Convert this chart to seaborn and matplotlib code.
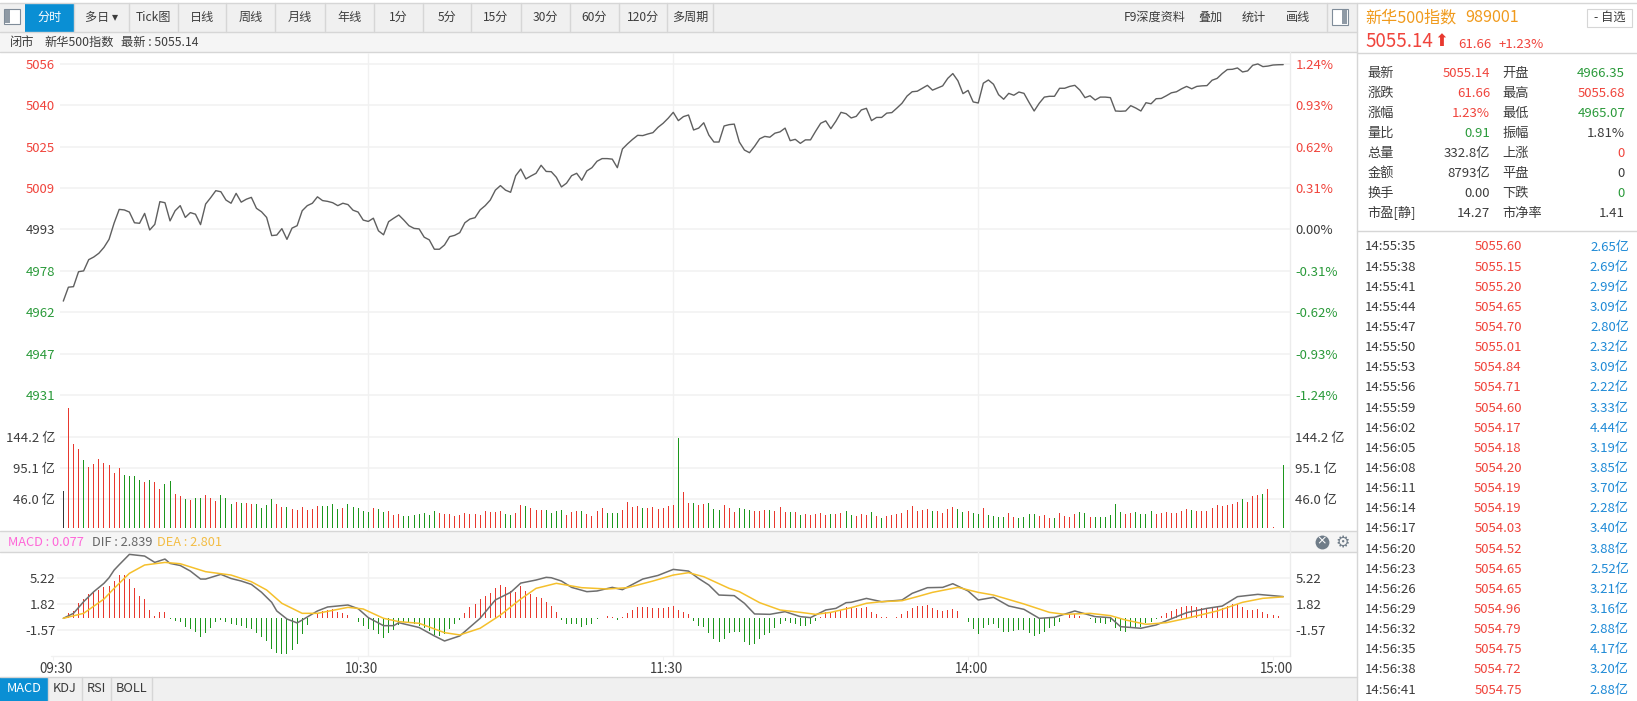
"""Intraday screen for the 新华500 index: price line, volume bars, MACD, and the quote side panel."""
import matplotlib
matplotlib.use("Agg")

import matplotlib.pyplot as plt
import matplotlib.transforms as mtrans
import numpy as np
import pandas as pd
import seaborn as sns

# ── Data, one value per minute of the trading session ────────────────────
PRICE = [
    4966.7, 4971.9, 4972.1, 4977.7, 4978.0, 4982.2, 4983.2, 4984.6, 4986.8, 4989.8,
    4995.9, 5001.0, 5000.8, 5000.0, 4996.0, 4995.8, 4999.5, 4993.3, 4995.4, 5003.9,
    5003.5, 4996.7, 5000.5, 5002.4, 4998.0, 4999.8, 4999.2, 4995.3, 5003.0, 5005.4,
    5008.0, 5007.6, 5004.5, 5003.3, 5007.0, 5003.7, 5004.8, 5005.5, 5001.4, 5000.1,
    4998.0, 4991.2, 4991.4, 4993.8, 4989.8, 4994.0, 4994.9, 5000.5, 5002.4, 5003.3,
    5005.7, 5004.3, 5004.0, 5003.5, 5002.4, 5003.3, 5002.8, 5000.7, 5000.0, 4997.0,
    4996.5, 4997.7, 4993.0, 4991.5, 4996.4, 4997.7, 4998.9, 4997.0, 4994.9, 4993.9,
    4993.7, 4990.6, 4989.6, 4986.1, 4986.1, 4987.7, 4990.8, 4991.3, 4992.3, 4996.0,
    4997.4, 4997.9, 5000.8, 5002.4, 5004.5, 5008.2, 5009.9, 5008.2, 5007.4, 5013.6,
    5016.1, 5012.4, 5013.5, 5014.5, 5017.5, 5015.2, 5015.1, 5013.0, 5009.4, 5010.8,
    5013.6, 5014.5, 5011.9, 5015.4, 5016.6, 5019.0, 5020.0, 5020.0, 5019.8, 5016.6,
    5023.6, 5025.5, 5027.2, 5028.7, 5028.6, 5029.2, 5029.7, 5031.7, 5033.2, 5035.1,
    5037.3, 5034.2, 5035.7, 5036.3, 5030.7, 5031.4, 5033.4, 5028.8, 5026.2, 5026.2,
    5032.2, 5032.7, 5032.9, 5026.2, 5023.2, 5022.2, 5024.6, 5027.4, 5028.3, 5028.0,
    5029.5, 5030.0, 5031.4, 5026.7, 5027.2, 5025.7, 5027.0, 5027.0, 5030.2, 5033.2,
    5034.1, 5031.2, 5034.0, 5037.3, 5036.8, 5035.2, 5035.8, 5038.2, 5038.8, 5034.2,
    5035.4, 5035.4, 5037.0, 5037.2, 5038.9, 5040.7, 5043.4, 5045.0, 5045.2, 5046.3,
    5047.4, 5045.6, 5046.4, 5047.2, 5050.0, 5051.8, 5049.1, 5044.3, 5045.5, 5041.2,
    5040.8, 5048.2, 5049.4, 5047.8, 5043.9, 5042.2, 5044.4, 5043.7, 5044.9, 5044.4,
    5041.0, 5037.8, 5040.7, 5043.0, 5043.3, 5043.3, 5046.3, 5046.3, 5047.0, 5047.4,
    5045.6, 5042.8, 5043.5, 5041.9, 5043.0, 5043.0, 5042.8, 5037.8, 5037.7, 5037.8,
    5039.8, 5038.9, 5037.8, 5040.9, 5040.5, 5042.4, 5042.5, 5043.5, 5044.6, 5045.0,
    5046.1, 5047.0, 5046.1, 5047.0, 5047.2, 5047.3, 5049.3, 5050.0, 5051.8, 5053.3,
    5053.4, 5053.9, 5052.4, 5052.8, 5054.9, 5055.4, 5054.4, 5054.6, 5055.0, 5055.1,
    5055.14,
]
VOLUME = [
    59, 190.5, 133, 125, 108, 96.7, 102, 110, 103.4, 99.8,
    87.6, 95.5, 84.4, 83.4, 82.3, 77, 73.8, 76, 72.9, 62,
    70, 75, 55, 51, 46.5, 45, 48, 47.4, 52, 48,
    44, 52.7, 47.4, 38, 42, 40.6, 39.5, 38.5, 38.5, 32.6,
    36.4, 46, 38.5, 33, 34, 31, 29, 33.7, 29, 30.5,
    34.6, 34.6, 34.6, 39, 30.5, 31.5, 38, 33, 31.5, 28,
    26, 32.7, 30.5, 25.4, 27, 21, 22, 19.5, 19.5, 21.5,
    22, 23.7, 21.5, 27.6, 25, 23, 23, 20, 21, 25,
    23, 22, 21, 28, 26, 26, 28, 23, 21, 25,
    37, 35.7, 32.7, 29.5, 29, 29.5, 24.7, 27.6, 29, 21,
    26, 27, 27, 22, 19.5, 28, 32.7, 25, 23.7, 23.7,
    29, 41, 33, 34.6, 32, 31.5, 33, 29.8, 32.7, 35.7,
    36.4, 143, 57, 40, 39.5, 37, 38, 40.6, 30, 29.5,
    36.4, 32.7, 26, 31.5, 30.5, 29.5, 27.6, 27, 29, 29,
    27.6, 33, 26, 26, 26, 21, 22, 21, 23, 23.7,
    21, 22, 22, 23.7, 27.6, 21, 19.5, 22, 21, 26,
    20, 16.7, 19.5, 21, 23, 25, 29.5, 35.7, 28, 29.5,
    29.8, 28, 27.6, 23.7, 29.8, 33, 30.5, 26.5, 27, 23.7,
    22, 31.5, 21, 19.5, 18, 17.4, 25, 18, 17, 18,
    22, 22, 20, 21, 16, 15.5, 23.7, 19.5, 18, 22,
    26, 23.7, 18.5, 17.4, 18.5, 17.4, 21, 38.5, 26.5, 23,
    23.7, 26, 22, 23, 27.6, 23, 25, 26, 23.7, 25,
    27, 30.5, 29.5, 27.6, 27, 28, 31.5, 37, 35.7, 37.5,
    38.5, 42, 46, 42, 51, 52.7, 54.5, 63, 1.5, 0.8,
    100,
]
VOLUME_SIDE = list(
    "krrrgrrrrr" "rrggggrgrr" "ggrrgrggrr" "rgggrgrrgg" "ggrrgrrrrr"
    "rggggrgggg" "grggrrrggg" "ggggrrrrrr" "rrrrrrrggr" "rgrrrggggr"
    "rrgrrrrggg" "rrrrgrrrrr" "rgrrgrrggg" "rrrgggrrrg" "rrrgrgrrrr"
    "rgrrggrrrg" "rgrrrrrrrr" "rgrrrrggrg" "grggggrrgg" "ggrrrgrrrr"
    "ggrggggggr" "rggggrrrrr" "rrgrrrrrrr" "rrgrrrgrrrg"
)
MACD_HIST = [
    0.0, 0.65, 0.96, 2.0, 2.48, 3.17, 3.48, 3.74, 4.04, 4.22,
    4.87, 5.6, 5.65, 5.13, 4.0, 2.91, 2.48, 1.09, 0.3, 0.78,
    0.83, -0.09, -0.3, -0.43, -1.13, -1.43, -1.74, -2.43, -1.91, -1.22,
    -0.52, -0.22, -0.43, -0.78, -0.87, -0.96, -1.3, -1.39, -1.87, -2.39,
    -2.96, -3.96, -4.52, -4.61, -4.7, -4.09, -3.35, -2.04, -0.87, 0.0,
    0.57, 0.96, 1.13, 1.17, 0.83, 0.7, 0.39, 0.02, -0.43, -0.96,
    -1.39, -1.48, -2.09, -2.52, -1.96, -1.48, -0.87, -0.52, -0.65, -0.74,
    -0.96, -1.3, -1.65, -2.13, -2.3, -2.0, -1.39, -0.74, -0.17, 0.74,
    1.48, 1.91, 2.48, 2.96, 3.35, 3.96, 4.35, 4.13, 3.61, 3.39,
    4.22, 3.57, 3.13, 2.83, 2.7, 2.17, 1.61, 0.83, -0.22, -0.78,
    -0.78, -0.74, -1.09, -0.87, -0.7, -0.13, 0.09, 0.26, 0.22, -0.22,
    0.22, 0.74, 1.13, 1.48, 1.48, 1.43, 1.3, 1.3, 1.35, 1.43,
    1.61, 1.13, 0.87, 0.61, -0.35, -0.96, -1.17, -1.87, -2.74, -3.13,
    -2.7, -1.96, -1.83, -1.74, -3.04, -3.52, -3.39, -2.74, -2.17, -1.87,
    -1.22, -0.78, -0.35, -0.57, -0.74, -0.96, -0.96, -0.74, -0.39, 0.22,
    0.78, 0.78, 0.78, 1.04, 1.52, 1.39, 1.3, 1.39, 1.48, 0.78,
    0.52, 0.17, 0.13, 0.09, 0.22, 0.52, 0.96, 1.35, 1.57, 1.65,
    1.74, 1.35, 1.13, 0.96, 1.04, 1.26, 0.96, 0.02, -0.52, -1.39,
    -2.04, -1.3, -0.87, -0.78, -1.22, -1.74, -1.74, -1.65, -1.52, -1.52,
    -1.96, -2.3, -2.09, -1.83, -1.22, -1.0, -0.43, 0.02, 0.52, 0.52,
    0.35, 0.02, -0.04, -0.61, -0.65, -0.7, -0.52, -1.3, -1.65, -1.74,
    -1.3, -1.3, -1.13, -0.65, -0.43, -0.04, 0.26, 0.65, 1.0, 1.22,
    1.48, 1.61, 1.57, 1.48, 1.39, 1.39, 1.48, 1.43, 1.3, 1.65,
    1.83, 1.83, 1.48, 1.13, 1.09, 1.17, 0.78, 0.61, 0.43, 0.3,
    0.077,
]
# the two MACD curves are smooth, so they are read at their turning points
DIF_MINUTES = [
    0, 2, 4, 6, 8, 9, 10, 11, 13, 16, 18, 20, 21, 23, 25, 27, 28, 31, 33, 35,
    37, 39, 41, 42, 44, 46, 47, 50, 52, 56, 58, 60, 63, 65, 66, 70, 73, 75, 78, 82,
    85, 88, 90, 93, 95, 96, 98, 100, 103, 105, 108, 110, 114, 117, 120, 123, 125, 127, 129, 132,
    134, 136, 139, 142, 145, 147, 150, 152, 154, 155, 158, 161, 165, 167, 170, 173, 175, 178, 180, 183,
    186, 189, 192, 195, 199, 203, 206, 208, 212, 215, 221, 225, 228, 231, 235, 240,
]
DIF = [
    0.0, 0.65, 2.17, 3.48, 4.57, 5.3, 6.3, 7.0, 8.35, 8.13, 7.3, 7.74, 7.17, 6.9, 6.17, 5.13, 5.13, 5.74, 5.2, 4.87,
    4.43, 3.4, 2.09, 0.96, -0.09, -0.6, -0.22, 0.96, 1.48, 1.74, 1.26, 0.09, -0.96, -0.96, -0.57, -1.2, -2.3, -2.96, -2.3, 0.0,
    2.4, 3.39, 4.6, 5.0, 5.35, 5.3, 4.87, 4.04, 3.48, 3.57, 4.04, 3.74, 5.13, 5.6, 6.39, 6.17, 5.2, 4.35, 3.04, 2.96,
    1.96, 0.57, 0.52, 0.87, 0.22, 0.09, 1.09, 1.3, 2.04, 2.09, 2.6, 2.17, 2.39, 3.26, 4.0, 4.04, 4.52, 3.57, 2.39, 2.74,
    1.61, 1.17, 0.0, 0.13, 0.96, 0.22, 0.09, -1.09, -1.3, -0.87, 0.74, 1.3, 1.6, 2.83, 3.13, 2.839,
]
DEA_MINUTES = [
    0, 4, 8, 10, 13, 16, 20, 23, 28, 33, 37, 40, 43, 47, 50, 56, 59, 63, 66, 70,
    75, 78, 82, 86, 90, 93, 97, 102, 107, 111, 116, 120, 123, 126, 131, 133, 137, 141, 145, 148,
    151, 155, 158, 161, 165, 168, 171, 176, 180, 183, 189, 194, 197, 202, 206, 209, 213, 217, 221, 227,
    232, 236, 240,
]
DEA = [
    0.0, 0.65, 2.52, 3.91, 5.87, 6.96, 7.3, 7.13, 6.09, 5.65, 4.78, 3.7, 1.96, 0.65, 0.65, 1.43, 1.22, 0.0, -0.43, -0.65,
    -1.87, -2.17, -1.3, 0.43, 2.52, 3.91, 4.57, 4.0, 3.83, 4.0, 4.87, 5.65, 5.96, 5.43, 3.91, 3.48, 2.04, 1.09, 0.78, 0.52,
    0.78, 1.39, 1.96, 2.17, 2.3, 2.83, 3.39, 4.04, 3.39, 3.04, 1.87, 0.78, 0.52, 0.65, 0.35, -0.22, -0.78, -0.57, 0.0, 0.96,
    2.09, 2.61, 2.801,
]

PRICE_TICKS = [5055.4, 5039.92, 5024.44, 5008.96, 4993.48, 4978.0, 4962.52, 4947.04, 4931.56]
PRICE_LABELS = ["5056", "5040", "5025", "5009", "4993", "4978", "4962", "4947", "4931"]
PCT_LABELS = ["1.24%", "0.93%", "0.62%", "0.31%", "0.00%", "-0.31%", "-0.62%", "-0.93%", "-1.24%"]
VOLUME_TICKS = [144.2, 95.1, 46.0]
VOLUME_LABELS = ["144.2 亿", "95.1 亿", "46.0 亿"]
MACD_TICKS = [5.22, 1.82, -1.57]
MACD_LABELS = ["5.22", "1.82", "-1.57"]
TIME_TICKS = [0, 60, 120, 180, 240]
TIME_LABELS = ["09:30", "10:30", "11:30", "14:00", "15:00"]
GRID_MINUTES = [60, 120, 180]

TOOLBAR_LABELS = ["分时", "多日 ▾", "Tick图", "日线", "周线", "月线", "年线", "1分", "5分", "15分", "30分", "60分", "120分", "多周期"]
TOOLBAR_EDGES = [24.5, 73.7, 128.6, 177.7, 226.3, 275.4, 324.5, 373.7, 422.8, 471.4, 520.5, 569.6, 618.8, 667.4, 712.5]
TOOLBAR_RIGHT = [("F9深度资料", 1155), ("叠加", 1210.5), ("统计", 1254), ("画线", 1298.5)]
TABS = ["MACD", "KDJ", "RSI", "BOLL"]
TAB_EDGES = [0, 48.3, 81.7, 110.7, 151.7]

STAT_LEFT = [("最新", "5055.14", "r"), ("涨跌", "61.66", "r"), ("涨幅", "1.23%", "r"), ("量比", "0.91", "g"),
             ("总量", "332.8亿", "n"), ("金额", "8793亿", "n"), ("换手", "0.00", "n"), ("市盈[静]", "14.27", "n")]
STAT_RIGHT = [("开盘", "4966.35", "g"), ("最高", "5055.68", "r"), ("最低", "4965.07", "g"), ("振幅", "1.81%", "n"),
              ("上涨", "0", "r"), ("平盘", "0", "n"), ("下跌", "0", "g"), ("市净率", "1.41", "n")]
TICK_TIMES = ["14:55:35", "14:55:38", "14:55:41", "14:55:44", "14:55:47", "14:55:50", "14:55:53", "14:55:56",
              "14:55:59", "14:56:02", "14:56:05", "14:56:08", "14:56:11", "14:56:14", "14:56:17", "14:56:20",
              "14:56:23", "14:56:26", "14:56:29", "14:56:32", "14:56:35", "14:56:38", "14:56:41"]
TICK_PRICES = ["5055.60", "5055.15", "5055.20", "5054.65", "5054.70", "5055.01", "5054.84", "5054.71",
               "5054.60", "5054.17", "5054.18", "5054.20", "5054.19", "5054.19", "5054.03", "5054.52",
               "5054.65", "5054.65", "5054.96", "5054.79", "5054.75", "5054.72", "5054.75"]
TICK_AMOUNTS = ["2.65亿", "2.69亿", "2.99亿", "3.09亿", "2.80亿", "2.32亿", "3.09亿", "2.22亿",
                "3.33亿", "4.44亿", "3.19亿", "3.85亿", "3.70亿", "2.28亿", "3.40亿", "3.88亿",
                "2.52亿", "3.21亿", "3.16亿", "2.88亿", "4.17亿", "3.20亿", "2.88亿"]

# ── Style ────────────────────────────────────────────────────────────────
RED = "#e8382e"
GREEN = "#1c961c"
TEXT = "#3c3c3c"
LINE = "#5f5f5f"
GOLD = "#f5c02c"
GRID = "#f1f1f1"
BORDER = "#d6d6d6"
BAR_BG = "#f0f0f0"
ROW_BG = "#f5f5f5"
BLUE = "#0a8fd4"
AMOUNT_BLUE = "#1f8ad6"
ORANGE = "#f09a1c"
TONE = {"r": "#f0443c", "g": "#2a9a3a", "n": TEXT}

W, H = 1637, 701
PX_LEFT, PX_STEP, PX_RIGHT = 63.3, 5.083, 1290.3
BAR_WIDTH = 1 / PX_STEP  # one pixel wide, so snapping keeps every bar the same

sns.set_theme(style="white")
plt.rcParams["font.family"] = ["Noto Sans CJK SC", "DejaVu Sans"]
plt.rcParams["axes.unicode_minus"] = False

fig = plt.figure(figsize=(W / 100, H / 100), dpi=100, facecolor="white")


def px_axes(left, top, right, bottom):
    ax = fig.add_axes([left / W, 1 - bottom / H, (right - left) / W, (bottom - top) / H], zorder=2)
    ax.patch.set_alpha(0)
    ax.set_xlim((left - PX_LEFT) / PX_STEP, (right - PX_LEFT) / PX_STEP)
    return ax


def finish_axis(ax, ticks, left_labels, right_labels, ylim, colors=None, left_pad=3.6):
    """Horizontal grid, left and right tick labels, no frame."""
    ax.set_ylim(*ylim)
    ax.set_yticks(ticks, left_labels)
    ax.tick_params(axis="y", length=0, labelsize=9.5, pad=left_pad)
    ax.set_xlabel("")
    ax.set_ylabel("")
    twin = ax.twinx()
    twin.set_ylim(*ylim)
    twin.set_yticks(ticks, right_labels)
    twin.tick_params(axis="y", length=0, labelsize=9.5, pad=3.6)
    twin.set_zorder(ax.get_zorder() - 1)
    for side_ax in (ax, twin):
        sns.despine(ax=side_ax, left=True, right=True, top=True, bottom=True)
        for i, label in enumerate(side_ax.get_yticklabels()):
            label.set_color(colors[i] if colors else TEXT)
    ax.grid(False)
    twin.grid(False)
    for value in ticks:
        ax.axhline(value, color=GRID, lw=1.1, zorder=0)
    for minute in GRID_MINUTES:
        ax.axvline(minute, color=GRID, lw=1.0, zorder=0)


# ── Chrome behind the charts, in pixel coordinates ───────────────────────
ui = fig.add_axes([0, 0, 1, 1], zorder=0)
ui.set_xlim(0, W)
ui.set_ylim(H, 0)
ui.axis("off")


def box(x0, y0, x1, y1, color, edge="none"):
    ui.add_patch(plt.Rectangle((x0, y0), x1 - x0, y1 - y0, facecolor=color, edgecolor=edge, lw=0.8))


def hline(y, x0=0, x1=W, color=BORDER):
    ui.plot([x0, x1], [y, y], color=color, lw=1.0)


def vline(x, y0, y1, color=BORDER):
    ui.plot([x, x], [y0, y1], color=color, lw=1.0)


def label(x, y, text, size=9.5, color=TEXT, ha="left", **kwargs):
    ui.text(x, y, text, fontsize=size, color=color, ha=ha, va="center", **kwargs)


box(0, 2.7, 1356.7, 31.7, BAR_BG)
box(0, 32, 1356.7, 52, ROW_BG)
box(0, 531, 1290.3, 552, ROW_BG)
box(1290.3, 531, 1356.7, 552, ROW_BG)
box(0, 676.7, 1356.7, H, BAR_BG)
hline(2.7, 0, W)
hline(31.7, 0, 1356.7)
hline(52.3, 0, 1356.7)
hline(531, 0, 1356.7)
hline(552, 0, 1356.7)
hline(676.7, 0, 1356.7)
hline(656.3, 51, 1290.3, color=GRID)
vline(PX_RIGHT, 52.3, 656.3, color="#ececec")
vline(1356.7, 2.7, H)
hline(53, 1356.7, W)
hline(231.3, 1356.7, W)

# toolbar
box(4, 9, 20, 24, "#ffffff", edge="#7f8c99")
box(5, 10, 10, 23, "#8f9aa5")
box(TOOLBAR_EDGES[0], 2.7, TOOLBAR_EDGES[1], 31.7, BLUE)
for i, name in enumerate(TOOLBAR_LABELS):
    center = (TOOLBAR_EDGES[i] + TOOLBAR_EDGES[i + 1]) / 2
    label(center, 17.5, name, size=8.7, ha="center", color="white" if i == 0 else TEXT)
    vline(TOOLBAR_EDGES[i + 1], 2.7, 31.7)
for name, center in TOOLBAR_RIGHT:
    label(center, 17.5, name, size=8.7, ha="center")
vline(1326.7, 2.7, 31.7)
box(1332, 9, 1348, 25, "#ffffff", edge="#7f8c99")
box(1342, 10, 1347, 24, "#8f9aa5")

label(10, 42.5, "闭市", size=8.8)
label(44, 42.5, "新华500指数", size=8.8)
label(121, 42.5, "最新 : 5055.14", size=8.8)

# MACD header and tabs
label(8, 542, "MACD : 0.077", size=9.2, color="#ff66d8")
label(92, 542, "DIF : 2.839", size=9.2, color="#666666")
label(157, 542, "DEA : 2.801", size=9.2, color="#f3bd45")
ui.plot([1322], [541.5], marker="o", ms=10, color="#6f7c88", mew=0)
label(1322, 541, "×", size=9, color="white", ha="center", family="DejaVu Sans")
label(1343, 542.5, "⚙", size=11.5, color="#6f7c88", ha="center", family="DejaVu Sans")
box(TAB_EDGES[0], 676.7, TAB_EDGES[1], H, BLUE)
for i, name in enumerate(TABS):
    center = (TAB_EDGES[i] + TAB_EDGES[i + 1]) / 2
    label(center, 689, name, size=9.2, ha="center", color="white" if i == 0 else TEXT)
    vline(TAB_EDGES[i + 1], 676.7, H)

# quote panel
label(1365, 18, "新华500指数", size=11.6, color=ORANGE)
label(1465, 18, "989001", size=11.6, color=ORANGE)
box(1587, 8.5, 1632, 27, "#ffffff", edge=BORDER)
label(1609.5, 17.5, "- 自选", size=8.8, ha="center")
label(1365, 41.7, "5055.14", size=13.5, color=TONE["r"])
label(1441, 40.5, "⬆", size=12, color=RED, ha="center", family="DejaVu Sans")
label(1458, 44, "61.66", color=TONE["r"])
label(1499, 44, "+1.23%", color=TONE["r"])
for i, (left_row, right_row) in enumerate(zip(STAT_LEFT, STAT_RIGHT)):
    y = 73.3 + 20 * i
    label(1367.3, y, left_row[0])
    label(1490, y, left_row[1], ha="right", color=TONE[left_row[2]])
    label(1502.7, y, right_row[0])
    label(1625, y, right_row[1], ha="right", color=TONE[right_row[2]])
for i, (when, price, amount) in enumerate(zip(TICK_TIMES, TICK_PRICES, TICK_AMOUNTS)):
    y = 247 + 20.14 * i
    label(1365, y, when)
    label(1521.7, y, price, ha="right", color=TONE["r"])
    label(1629, y, amount, ha="right", color=AMOUNT_BLUE)

# ── Charts ───────────────────────────────────────────────────────────────
minutes = np.arange(len(PRICE))
price_df = pd.DataFrame({"minute": minutes, "price": PRICE})
volume_df = pd.DataFrame({"minute": minutes, "volume": VOLUME, "side": VOLUME_SIDE})
hist_df = pd.DataFrame({"minute": minutes, "hist": MACD_HIST})
hist_df["side"] = np.where(hist_df["hist"] >= 0, "r", "g")
side_palette = {"r": RED, "g": GREEN, "k": "#333333"}

ax_price = px_axes(60, 52.5, PX_RIGHT, 400)
xlim = ax_price.get_xlim()
sns.lineplot(data=price_df, x="minute", y="price", color=LINE, lw=1.0, errorbar=None, ax=ax_price, zorder=3)
ax_price.set_xlim(*xlim)
ax_price.set_xticks([])
price_colors = [TONE["r"]] * 4 + [TEXT] + [TONE["g"]] * 4
finish_axis(ax_price, PRICE_TICKS, PRICE_LABELS, PCT_LABELS, (4929.71, 5059.68), colors=price_colors)

ax_vol = px_axes(60, 400, PX_RIGHT, 531)
xlim = ax_vol.get_xlim()
sns.barplot(data=volume_df, x="minute", y="volume", hue="side", palette=side_palette, native_scale=True,
            dodge=False, width=BAR_WIDTH, saturation=1, errorbar=None, legend=False, linewidth=0, ax=ax_vol, zorder=3)
ax_vol.set_xlim(*xlim)
ax_vol.set_xticks([])
finish_axis(ax_vol, VOLUME_TICKS, VOLUME_LABELS, VOLUME_LABELS, (-4.3, 203.2))

ax_macd = px_axes(57, 552, PX_RIGHT, 656.3)
xlim = ax_macd.get_xlim()
sns.barplot(data=hist_df, x="minute", y="hist", hue="side", palette=side_palette, native_scale=True,
            dodge=False, width=BAR_WIDTH, saturation=1, errorbar=None, legend=False, linewidth=0, ax=ax_macd, zorder=3)
sns.lineplot(x=DIF_MINUTES, y=DIF, color="#6e6e6e", lw=1.1, errorbar=None, ax=ax_macd, zorder=4)
sns.lineplot(x=DEA_MINUTES, y=DEA, color=GOLD, lw=1.1, errorbar=None, ax=ax_macd, zorder=5)
ax_macd.set_xlim(*xlim)
finish_axis(ax_macd, MACD_TICKS, MACD_LABELS, MACD_LABELS, (-4.96, 8.66), left_pad=0.8)
ax_macd.set_xticks(TIME_TICKS, TIME_LABELS)
ax_macd.tick_params(axis="x", length=3, width=0.8, color=GRID, labelsize=9.6, labelcolor=TEXT, pad=0.8, bottom=True)
label_shift = mtrans.ScaledTranslation(-7 / 100, 0, fig.dpi_scale_trans)
tick_shift = mtrans.ScaledTranslation(-10 / 100, 0, fig.dpi_scale_trans)
for tick in ax_macd.xaxis.get_major_ticks():
    tick.label1.set_transform(tick.label1.get_transform() + label_shift)
    tick.tick1line.set_transform(tick.tick1line.get_transform() + tick_shift)

fig.savefig("out.png", dpi=100, facecolor="white")
